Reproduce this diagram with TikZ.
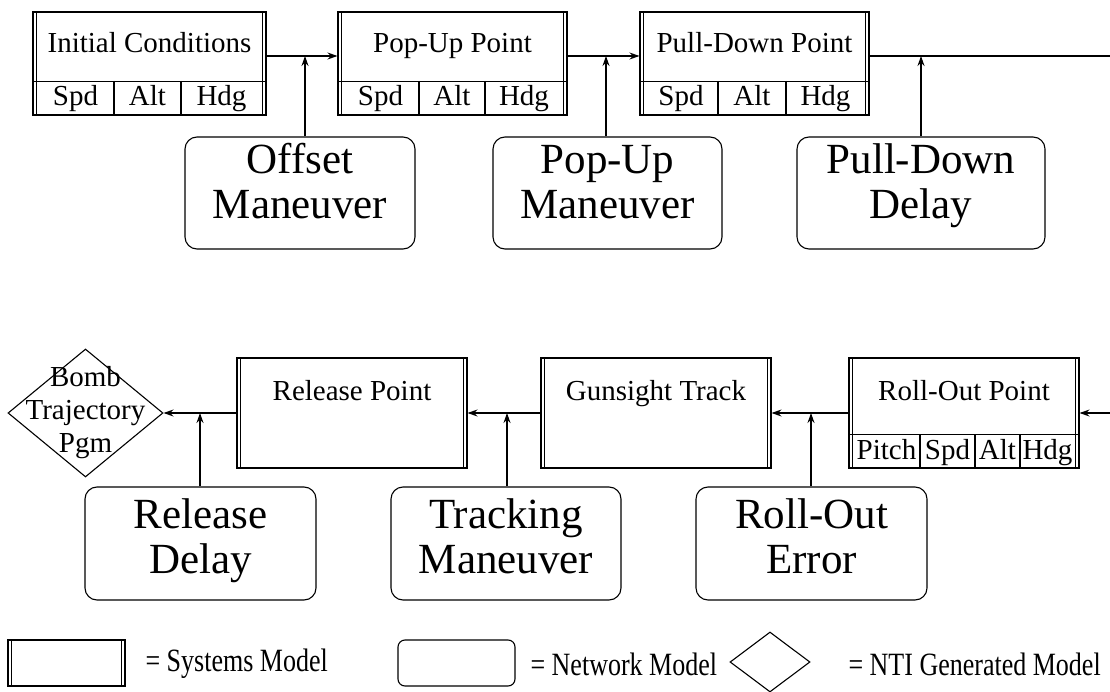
\documentclass[tikz,border=0pt]{standalone}
\usepackage{fontspec}
\setmainfont{Liberation Serif}
\usetikzlibrary{arrows.meta,shapes.geometric}

\begin{document}
\begin{tikzpicture}[x=1pt, y=-1pt, line width=1.1pt,
    sysbox/.style={draw, inner sep=0pt, minimum width=#1},
    netbox/.style={draw, rounded corners=12pt, inner sep=0pt, minimum width=#1, minimum height=112pt},
    ntidiamond/.style={draw, diamond, inner sep=0pt},
    systext/.style={font=\fontsize{29}{33}\selectfont, inner sep=0pt},
    bigtext/.style={font=\fontsize{43}{45}\selectfont, align=center, anchor=north, inner sep=0pt},
    legtext/.style={font=\fontsize{26}{30}\selectfont, anchor=west, inner sep=0pt},
    arr/.style={-{Stealth[length=10pt, width=7pt]}}]

      \useasboundingbox (0, 0) rectangle (1110, 692);

      \node[sysbox=233pt, minimum height=103pt] (ic) at (149.5, 63.5) {};
      \node[sysbox=229pt, minimum height=103pt] (pu) at (452.5, 63.5) {};
      \node[sysbox=229pt, minimum height=103pt] (pd) at (754.5, 63.5) {};
      \node[sysbox=230pt, minimum height=110pt] (rp) at (352, 413) {};
      \node[sysbox=230pt, minimum height=110pt] (gt) at (656, 413) {};
      \node[sysbox=230pt, minimum height=110pt] (ro) at (964, 413) {};
      \node[ntidiamond, minimum width=155pt, minimum height=128pt] (btp) at (85.5, 413) {};

      \node[netbox=230pt] (om) at (300, 193) {};
      \node[netbox=229pt] (pm) at (607.5, 193) {};
      \node[netbox=248pt] (pdd) at (921, 193) {};
      \node[netbox=231pt, minimum height=113pt] (rd) at (200.5, 543.5) {};
      \node[netbox=230pt, minimum height=113pt] (tm) at (506, 543.5) {};
      \node[netbox=231pt, minimum height=113pt] (re) at (811.5, 543.5) {};

      \foreach \n in {ic, pu, pd, rp, gt, ro} {
        \draw ([xshift=4pt]\n.north west) -- ([xshift=4pt]\n.south west);
        \draw ([xshift=-4pt]\n.north east) -- ([xshift=-4pt]\n.south east);
      }
      \foreach \n in {ic, pu, pd} \draw ([yshift=34pt]\n.south west) -- ([yshift=34pt]\n.south east);
      \draw ([yshift=34pt]ro.south west) -- ([yshift=34pt]ro.south east);
      \foreach \x in {114, 181, 419, 485, 718, 786} \draw (\x, 81) -- (\x, 115);
      \foreach \x in {920, 975, 1020} \draw (\x, 434) -- (\x, 468);

      \node[systext, anchor=base] (ictitle) at (149.5, 53) {Initial Conditions};
      \node[systext, anchor=base] (putitle) at (452.5, 53) {Pop-Up Point};
      \node[systext, anchor=base] (pdtitle) at (754.5, 53) {Pull-Down Point};
      \node[systext, anchor=base] (rptitle) at (352, 400) {Release Point};
      \node[systext, anchor=base] (gttitle) at (656, 400) {Gunsight Track};
      \node[systext, anchor=base] (rotitle) at (964, 400) {Roll-Out Point};

      \foreach \nm/\x/\t in {icspd/75.5/Spd, icalt/147.5/Alt, ichdg/221.5/Hdg,
                             puspd/380.5/Spd, pualt/452/Alt, puhdg/524/Hdg,
                             pdspd/681/Spd, pdalt/752/Alt, pdhdg/825.5/Hdg}
        \node[systext, anchor=base] (\nm) at (\x, 106) {\t};
      \foreach \nm/\x/\t in {ropitch/886.5/Pitch, rospd/947.5/Spd, roalt/997.5/Alt, rohdg/1047.5/Hdg}
        \node[systext, anchor=base] (\nm) at (\x, 459) {\t};

      \node[systext, align=center] (btptext) at (btp.center) {Bomb\\Trajectory\\Pgm};

      \node[bigtext] (omtext) at ([yshift=-5pt]om.north) {\strut Offset\\Maneuver};
      \node[bigtext] (pmtext) at ([yshift=-5pt]pm.north) {\strut Pop-Up\\Maneuver};
      \node[bigtext] (pddtext) at ([yshift=-5pt]pdd.north) {\strut Pull-Down\\Delay};
      \node[bigtext] (rdtext) at ([yshift=-10pt]rd.north) {\strut Release\\Delay};
      \node[bigtext] (tmtext) at ([yshift=-10pt]tm.north) {\strut Tracking\\Maneuver};
      \node[bigtext] (retext) at ([yshift=-10pt]re.north) {\strut Roll-Out\\Error};

      \coordinate (j1) at (305, 56);
      \coordinate (j2) at (606, 56);
      \coordinate (j3) at (921, 56);
      \coordinate (j4) at (200, 413);
      \coordinate (j5) at (507, 413);
      \coordinate (j6) at (811, 413);
      \coordinate (outR) at (1110, 56);
      \coordinate (inR) at (1110, 413);

      \draw[arr] ([yshift=7.5pt]ic.east) -- ([yshift=7.5pt]pu.west);
      \draw[arr] ([yshift=7.5pt]pu.east) -- ([yshift=7.5pt]pd.west);
      \draw ([yshift=7.5pt]pd.east) -- (outR);
      \draw[arr] (inR) -- (ro.east);
      \draw[arr] (ro.west) -- (gt.east);
      \draw[arr] (gt.west) -- (rp.east);
      \draw[arr] (rp.west) -- (btp.east);

      \draw[arr] (om.north -| j1) -- (j1);
      \draw[arr] (pm.north -| j2) -- (j2);
      \draw[arr] (pdd.north -| j3) -- (j3);
      \draw[arr] (rd.north -| j4) -- (j4);
      \draw[arr] (tm.north -| j5) -- (j5);
      \draw[arr] (re.north -| j6) -- (j6);

      \node[sysbox=117pt, minimum height=46pt] (lsys) at (66.5, 663) {};
      \draw ([xshift=4pt]lsys.north west) -- ([xshift=4pt]lsys.south west);
      \draw ([xshift=-4pt]lsys.north east) -- ([xshift=-4pt]lsys.south east);
      \node[netbox=117pt, minimum height=46pt, rounded corners=7pt] (lnet) at (456.5, 663) {};
      \node[ntidiamond, minimum width=80pt, minimum height=60pt] (lnti) at (770, 662) {};

      \node[legtext] (lsystext) at (145, 664) {\scalebox{1}[1.25]{= Systems Model}};
      \node[legtext] (lnettext) at (530, 664) {\scalebox{1}[1.25]{= Network Model}};
      \node[legtext] (lntitext) at (848, 664) {\scalebox{1}[1.25]{= NTI Generated Model}};

    \end{tikzpicture}
\end{document}
